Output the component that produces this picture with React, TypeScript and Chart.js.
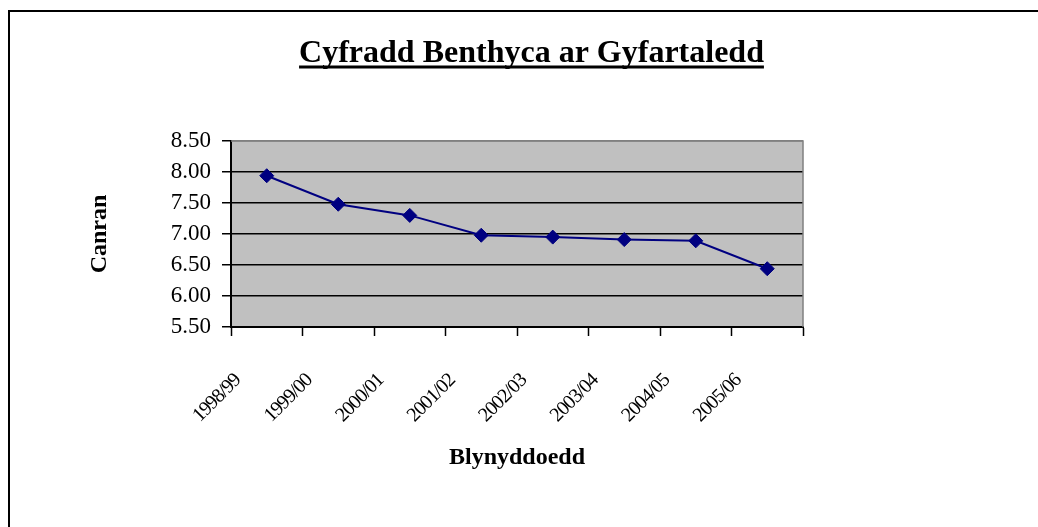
import React, { useEffect, useRef } from "react";
import { Chart, registerables } from "chart.js";

Chart.register(...registerables);

const chartTitle = "Cyfradd Benthyca ar Gyfartaledd";
const xTitle = "Blynyddoedd";
const yTitle = "Canran";
const categories = ["1998/99", "1999/00", "2000/01", "2001/02", "2002/03", "2003/04", "2004/05", "2005/06"];
const rates = [7.94, 7.48, 7.3, 6.98, 6.95, 6.91, 6.89, 6.44];
const yMin = 5.5;
const yMax = 8.5;
const yStep = 0.5;

const SERIF = "'Liberation Serif', 'Times New Roman', serif";

const decorPlugin = {
  id: "decor",
  beforeDraw(chart: any) {
    const { ctx, chartArea } = chart;
    // tighter letter spacing for the rotated category labels only
    const xs = chart.scales.x;
    if (xs && !xs.__tight) {
      const orig = xs.drawLabels.bind(xs);
      xs.drawLabels = (area: any) => {
        const c = xs.ctx;
        const prev = c.letterSpacing;
        c.letterSpacing = "-1px";
        orig(area);
        c.letterSpacing = prev || "0px";
      };
      xs.__tight = true;
    }
    ctx.save();
    ctx.fillStyle = "#ffffff";
    ctx.fillRect(0, 0, chart.width, chart.height);
    // outer frame
    ctx.fillStyle = "#000000";
    ctx.fillRect(8, 10, 2, chart.height - 10);
    ctx.fillRect(8, 10, chart.width - 8, 2);
    // plot background
    ctx.fillStyle = "#C0C0C0";
    ctx.fillRect(chartArea.left, chartArea.top, chartArea.right - chartArea.left, chartArea.bottom - chartArea.top);
    ctx.restore();
  },
  beforeDatasetsDraw(chart: any) {
    const { ctx, chartArea } = chart;
    ctx.save();
    ctx.strokeStyle = "#808080";
    ctx.lineWidth = 1.5;
    ctx.beginPath();
    ctx.moveTo(chartArea.left, chartArea.top);
    ctx.lineTo(chartArea.right, chartArea.top);
    ctx.lineTo(chartArea.right, chartArea.bottom);
    ctx.stroke();
    ctx.restore();
  },
  afterDraw(chart: any) {
    const { ctx } = chart;
    ctx.save();
    ctx.font = `bold 32px ${SERIF}`;
    ctx.fillStyle = "#000000";
    ctx.textAlign = "center";
    ctx.textBaseline = "alphabetic";
    const cx = 531.5;
    const baseY = 62;
    ctx.fillText(chartTitle, cx, baseY);
    const w = ctx.measureText(chartTitle).width;
    ctx.fillRect(cx - w / 2, baseY + 3.5, w, 3);
    ctx.restore();
  },
};

export default function App() {
  const canvasRef = useRef<HTMLCanvasElement | null>(null);

  useEffect(() => {
    if (!canvasRef.current) return;
    const chart = new Chart(canvasRef.current, {
      type: "line",
      data: {
        labels: categories,
        datasets: [
          {
            data: rates,
            borderColor: "#000080",
            backgroundColor: "#000080",
            borderWidth: 2,
            pointStyle: "rectRot",
            pointRadius: 7,
            pointBorderWidth: 1,
            pointBackgroundColor: "#000080",
            pointBorderColor: "#000080",
            tension: 0,
            fill: false,
          },
        ],
      },
      options: {
        responsive: false,
        animation: false,
        devicePixelRatio: 1,
        layout: { padding: { top: 141, right: 235, left: 0, bottom: 0 } },
        plugins: {
          legend: { display: false },
          tooltip: { enabled: false },
          title: { display: false },
        },
        scales: {
          x: {
            type: "category",
            offset: true,
            afterFit: (scale: any) => {
              scale.height = 200;
            },
            grid: {
              offset: true,
              drawOnChartArea: false,
              drawTicks: true,
              tickLength: 9,
              tickColor: "#000000",
              tickWidth: 1.5,
              color: "#000000",
            },
            border: { display: true, color: "#000000", width: 2 },
            ticks: {
              color: "#000000",
              font: { family: SERIF, size: 20 },
              minRotation: 45,
              maxRotation: 45,
              autoSkip: false,
              padding: 33,
              labelOffset: -29,
            },
            title: {
              display: true,
              text: xTitle,
              color: "#000000",
              font: { family: SERIF, size: 24, weight: "bold" },
              padding: { top: 0, bottom: 55 },
            },
          },
          y: {
            min: yMin,
            max: yMax,
            afterFit: (scale: any) => {
              scale.width = 231;
            },
            grid: {
              color: (ctx: any) => (ctx.tick && ctx.tick.value === yMax ? "#808080" : "#000000"),
              lineWidth: 1.5,
              drawTicks: true,
              tickLength: 9,
              tickColor: "#000000",
              tickWidth: 1.5,
            },
            border: { display: true, color: "#000000", width: 2 },
            ticks: {
              stepSize: yStep,
              color: "#000000",
              font: { family: SERIF, size: 23 },
              padding: 11,
              callback: (v: any) => Number(v).toFixed(2),
            },
            title: {
              display: true,
              text: yTitle,
              color: "#000000",
              font: { family: SERIF, size: 24, weight: "bold" },
              padding: { top: 85, bottom: 0 },
            },
          },
        },
      },
      plugins: [decorPlugin],
    } as any);
    return () => chart.destroy();
  }, []);

  return (
    <div style={{ position: "absolute", left: 0, top: 0, width: 1038, height: 527, overflow: "hidden" }}>
      <canvas ref={canvasRef} width={1038} height={527} style={{ display: "block", width: 1038, height: 527 }} />
    </div>
  );
}
